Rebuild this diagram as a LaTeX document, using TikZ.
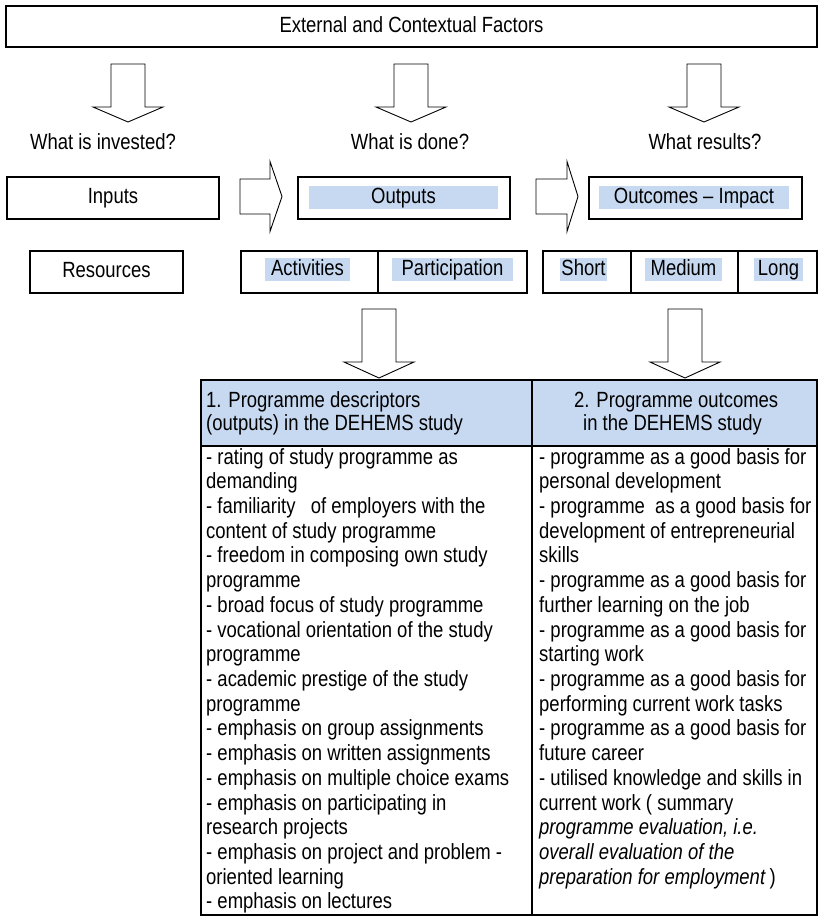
\documentclass[tikz,border=0pt]{standalone}
\usepackage{fontspec}
\setmainfont{Liberation Sans}[FakeStretch=0.84]
\definecolor{hlblue}{HTML}{C6D9F1}

% block arrows drawn as outlined polygons
\newcommand{\blkdown}[4]{% centre x, top y, head base y, tip y
  \draw[blk] (#1-17,#2) -- (#1+17,#2) -- (#1+17,#3) -- (#1+35,#3) -- (#1,#4)
    -- (#1-35,#3) -- (#1-17,#3) -- cycle;}
\newcommand{\blkright}[4]{% tail x, head base x, tip x, centre y
  \draw[blk] (#1,#4-17.5) -- (#2,#4-17.5) -- (#2,#4-35) -- (#3,#4)
    -- (#2,#4+35) -- (#2,#4+17.5) -- (#1,#4+17.5) -- cycle;}

\begin{document}
\begin{tikzpicture}[x=1pt,y=-1pt,
  every node/.style={font=\fontsize{22}{24.7}\selectfont, inner sep=0pt},
  box/.style={draw, line width=1.1pt, minimum height=42pt},
  hl/.style={fill=hlblue, minimum height=23pt, text height=15.8pt, text depth=4.6pt},
  lbl/.style={text height=15.8pt, text depth=4.6pt},
  tline/.style={anchor=base west},
  blk/.style={draw, line width=0.9pt, fill=white, line join=miter}]
\useasboundingbox (0,0) rectangle (819,917);

% external factors
\node[box, minimum width=811pt, minimum height=41pt, lbl] (ext) at (411.5,26.5) {External and Contextual Factors};

\blkdown{128}{64}{107}{122}
\blkdown{411}{64}{107}{122}
\blkdown{704}{64}{107}{122}

\node[anchor=base] (q1) at (103,150) {What is invested?};
\node[anchor=base] (q2) at (410,150) {What is done?};
\node[anchor=base] (q3) at (705,150) {What results?};

% main row
\node[box, minimum width=212pt, lbl] (inputs) at (113,198) {Inputs};
\node[box, minimum width=212pt] (outputs) at (404,198) {};
\node[hl, minimum width=189pt] (outputstxt) at (403.5,198) {Outputs};
\node[box, minimum width=213pt] (outcomes) at (695.5,198) {};
\node[hl, minimum width=190pt] (outcomestxt) at (694,197.5) {Outcomes -- Impact};

\blkright{240}{270}{282}{196.5}
\blkright{536}{567}{578}{196.5}

% second row
\node[box, minimum width=153pt, lbl] (res) at (106.5,272) {Resources};
\node[box, minimum width=137pt] (act) at (309.5,272) {};
\node[box, minimum width=149pt] (part) at (452.5,272) {};
\node[hl, minimum width=85pt] (acttxt) at (307.5,269.5) {Activities};
\node[hl, minimum width=121pt] (parttxt) at (452.5,269.5) {Participation};
\node[box, minimum width=88pt] (short) at (587,272) {};
\node[box, minimum width=107pt] (medium) at (684.5,272) {};
\node[box, minimum width=79pt] (long) at (777.5,272) {};
\node[hl, minimum width=47pt] (shorttxt) at (583.5,269.5) {Short};
\node[hl, minimum width=77pt] (mediumtxt) at (683.5,269.5) {Medium};
\node[hl, minimum width=49pt] (longtxt) at (778.5,269.5) {Long};

\blkdown{379}{309}{362}{378}
\blkdown{685}{309}{362}{378}

% table
\fill[hlblue] (201,380) rectangle (817,446);
\draw[line width=1.8pt] (201,380) rectangle (817,915);
\draw[line width=1.4pt] (201,446) -- (817,446);
\draw[line width=1.6pt] (532,380) -- (532,915);

\node[tline] (h1a) at (206,407) {1. Programme descriptors};
\node[tline] (h1b) at (206,430) {(outputs) in the DEHEMS study};
\node[tline] (h2a) at (574,407) {2. Programme outcomes};
\node[tline] (h2b) at (583,430) {in the DEHEMS study};

\foreach \ln [count=\i from 0] in {
  {- rating of study programme as},
  {demanding},
  {- familiarity\ \ \ of employers with the},
  {content of study programme},
  {- freedom in composing own study},
  {programme},
  {- broad focus of study programme},
  {- vocational orientation of the study},
  {programme},
  {- academic prestige of the study},
  {programme},
  {- emphasis on group assignments},
  {- emphasis on written assignments},
  {- emphasis on multiple choice exams},
  {- emphasis on participating in},
  {research projects},
  {- emphasis on project and problem -},
  {oriented learning},
  {- emphasis on lectures}}
  {\node[tline] (left\i) at (206,464+24.72*\i) {\ln};}

\foreach \ln [count=\i from 0] in {
  {- programme as a good basis for},
  {personal development},
  {- programme\ \ as a good basis for},
  {development of entrepreneurial},
  {skills},
  {- programme as a good basis for},
  {further learning on the job},
  {- programme as a good basis for},
  {starting work},
  {- programme as a good basis for},
  {performing current work tasks},
  {- programme as a good basis for},
  {future career},
  {- utilised knowledge and skills in},
  {current work ( summary},
  {\textit{programme evaluation, i.e.}},
  {\textit{overall evaluation of the}},
  {\textit{preparation for employment}\,)}}
  {\node[tline] (right\i) at (539,464+24.72*\i) {\ln};}
\end{tikzpicture}
\end{document}
